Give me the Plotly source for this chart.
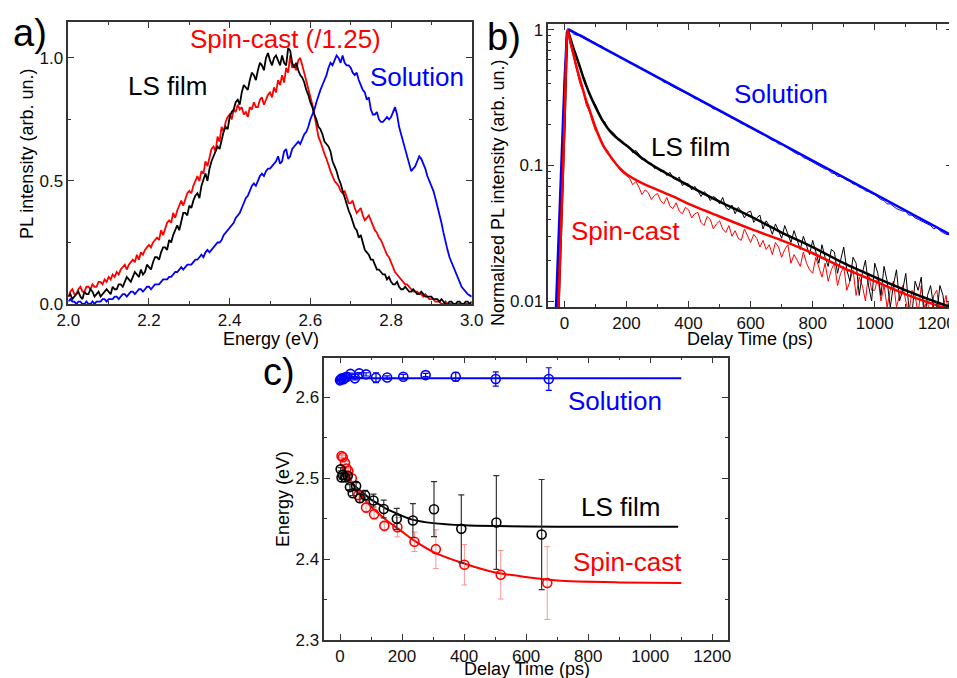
import plotly.graph_objects as go

# ---------------- Panel a: PL spectra (0.005 eV steps from 2.00 eV) ----------------
ls_film_pl = [
    0.03, 0.04, 0.02, 0.03, 0.04, 0.05, 0.03, 0.02, 0.05, 0.04, 0.04, 0.06, 0.05, 0.03, 0.04, 0.05, 0.03, 0.04, 0.05, 0.06,
    0.05, 0.04, 0.07, 0.06, 0.06, 0.08, 0.08, 0.07, 0.09, 0.11, 0.10, 0.09, 0.11, 0.13, 0.12, 0.11, 0.14, 0.12, 0.13, 0.16,
    0.15, 0.14, 0.17, 0.19, 0.19, 0.18, 0.21, 0.23, 0.23, 0.22, 0.26, 0.25, 0.28, 0.30, 0.32, 0.30, 0.34, 0.37, 0.37, 0.36,
    0.40, 0.39, 0.42, 0.44, 0.45, 0.43, 0.48, 0.51, 0.53, 0.50, 0.55, 0.58, 0.60, 0.62, 0.64, 0.63, 0.67, 0.70, 0.72, 0.71,
    0.76, 0.78, 0.79, 0.82, 0.83, 0.81, 0.86, 0.89, 0.88, 0.87, 0.91, 0.94, 0.93, 0.91, 0.95, 0.98, 0.97, 0.95, 1.00, 1.02,
    0.99, 0.97, 1.00, 1.01, 0.99, 0.97, 1.01, 0.98, 0.97, 1.04, 1.03, 0.98, 0.96, 0.98, 0.95, 0.93, 0.92, 0.90, 0.87, 0.85,
    0.82, 0.80, 0.77, 0.75, 0.72, 0.71, 0.69, 0.66, 0.65, 0.64, 0.62, 0.58, 0.56, 0.54, 0.51, 0.49, 0.46, 0.43, 0.40, 0.38,
    0.36, 0.33, 0.31, 0.30, 0.27, 0.28, 0.25, 0.22, 0.21, 0.20, 0.18, 0.18, 0.16, 0.14, 0.14, 0.13, 0.12, 0.12, 0.10, 0.11,
    0.09, 0.08, 0.08, 0.09, 0.07, 0.06, 0.06, 0.07, 0.06, 0.05, 0.05, 0.06, 0.05, 0.04, 0.04, 0.05, 0.04, 0.03, 0.03, 0.03,
    0.03, 0.02, 0.02, 0.02, 0.01, 0.02, 0.01, 0.00, 0.00, 0.01, 0.01, 0.00, 0.00, 0.01, 0.01, 0.00, 0.00, 0.01, 0.01, 0.00,
    0.01]
spin_cast_pl = [
    0.03, 0.05, 0.06, 0.04, 0.04, 0.06, 0.07, 0.05, 0.05, 0.07, 0.07, 0.06, 0.08, 0.07, 0.07, 0.09, 0.09, 0.08, 0.10, 0.09,
    0.11, 0.10, 0.12, 0.11, 0.13, 0.12, 0.14, 0.15, 0.16, 0.14, 0.16, 0.17, 0.18, 0.17, 0.20, 0.18, 0.21, 0.20, 0.22, 0.23,
    0.24, 0.23, 0.25, 0.26, 0.27, 0.26, 0.30, 0.28, 0.31, 0.33, 0.34, 0.33, 0.37, 0.35, 0.38, 0.40, 0.42, 0.40, 0.43, 0.45,
    0.46, 0.45, 0.48, 0.50, 0.52, 0.50, 0.54, 0.53, 0.58, 0.56, 0.60, 0.63, 0.64, 0.62, 0.68, 0.66, 0.72, 0.70, 0.74, 0.76,
    0.77, 0.75, 0.79, 0.78, 0.81, 0.79, 0.80, 0.77, 0.78, 0.76, 0.80, 0.79, 0.82, 0.80, 0.80, 0.83, 0.84, 0.81, 0.83, 0.85,
    0.86, 0.84, 0.88, 0.86, 0.91, 0.89, 0.93, 0.90, 0.96, 0.94, 1.01, 0.96, 0.97, 0.95, 0.99, 1.00, 0.97, 0.94, 0.90, 0.88,
    0.84, 0.81, 0.77, 0.73, 0.68, 0.66, 0.63, 0.61, 0.59, 0.56, 0.54, 0.52, 0.50, 0.49, 0.48, 0.46, 0.45, 0.46, 0.43, 0.41,
    0.41, 0.42, 0.39, 0.37, 0.38, 0.39, 0.36, 0.34, 0.35, 0.36, 0.34, 0.32, 0.30, 0.29, 0.27, 0.26, 0.24, 0.22, 0.20, 0.19,
    0.17, 0.15, 0.13, 0.12, 0.11, 0.10, 0.09, 0.08, 0.08, 0.07, 0.06, 0.05, 0.05, 0.05, 0.04, 0.04, 0.03, 0.04, 0.03, 0.02,
    0.02, 0.02, 0.01, 0.01, 0.01, 0.00, 0.00, 0.01, 0.00, 0.00, 0.00, 0.00, 0.00, 0.00, 0.00, 0.00, 0.00, 0.00, 0.00, 0.00,
    0.00]
solution_pl = [
    0.01, 0.02, 0.01, 0.01, 0.00, 0.01, 0.01, 0.00, 0.00, 0.01, 0.00, 0.00, 0.01, 0.00, 0.01, 0.01, 0.01, 0.02, 0.02, 0.01,
    0.02, 0.02, 0.02, 0.03, 0.03, 0.02, 0.03, 0.04, 0.04, 0.03, 0.04, 0.05, 0.05, 0.04, 0.05, 0.06, 0.06, 0.05, 0.06, 0.07,
    0.07, 0.06, 0.07, 0.08, 0.08, 0.08, 0.09, 0.10, 0.10, 0.10, 0.11, 0.11, 0.12, 0.13, 0.13, 0.14, 0.15, 0.14, 0.15, 0.16,
    0.16, 0.16, 0.17, 0.18, 0.18, 0.19, 0.20, 0.19, 0.21, 0.22, 0.21, 0.22, 0.23, 0.24, 0.25, 0.25, 0.26, 0.28, 0.29, 0.30,
    0.31, 0.32, 0.33, 0.35, 0.36, 0.37, 0.39, 0.41, 0.43, 0.44, 0.46, 0.48, 0.49, 0.48, 0.50, 0.52, 0.53, 0.52, 0.54, 0.55,
    0.55, 0.56, 0.57, 0.58, 0.60, 0.57, 0.58, 0.62, 0.63, 0.59, 0.60, 0.63, 0.64, 0.65, 0.66, 0.65, 0.67, 0.69, 0.70, 0.72,
    0.75, 0.77, 0.79, 0.82, 0.85, 0.87, 0.89, 0.91, 0.93, 0.96, 0.98, 0.97, 0.99, 1.01, 1.00, 0.98, 1.01, 0.98, 0.97, 0.97,
    0.96, 0.94, 0.93, 0.94, 0.91, 0.89, 0.87, 0.86, 0.83, 0.84, 0.79, 0.77, 0.77, 0.78, 0.75, 0.74, 0.74, 0.75, 0.76, 0.75,
    0.76, 0.78, 0.80, 0.77, 0.72, 0.69, 0.66, 0.63, 0.60, 0.57, 0.54, 0.55, 0.56, 0.58, 0.60, 0.59, 0.57, 0.55, 0.52, 0.50,
    0.48, 0.46, 0.43, 0.40, 0.36, 0.33, 0.29, 0.25, 0.22, 0.19, 0.17, 0.15, 0.13, 0.11, 0.09, 0.07, 0.06, 0.05, 0.04, 0.035,
    0.03]
energy_a = [round(2.0 + 0.005 * i, 3) for i in range(len(ls_film_pl))]

# ---------------- Panel b: PL decays (sampled every 10 ps from -30 ps) ----------------
solution_decay = [
    0.005, 0.02, 0.09,
    0.45, 0.97, 0.98, 0.93, 0.91, 0.92, 0.90, 0.87, 0.84, 0.82,
    0.80, 0.77, 0.76, 0.72, 0.71, 0.68, 0.67, 0.65, 0.62, 0.61,
    0.60, 0.57, 0.56, 0.55, 0.53, 0.51, 0.50, 0.48, 0.47, 0.455,
    0.44, 0.435, 0.41, 0.405, 0.39, 0.38, 0.37, 0.36, 0.35, 0.34,
    0.335, 0.325, 0.31, 0.31, 0.295, 0.29, 0.28, 0.275, 0.26, 0.262,
    0.25, 0.245, 0.236, 0.232, 0.222, 0.22, 0.212, 0.203, 0.202, 0.193,
    0.19, 0.186, 0.178, 0.174, 0.168, 0.165, 0.158, 0.153, 0.151, 0.144,
    0.143, 0.138, 0.133, 0.13, 0.125, 0.121, 0.12, 0.114, 0.112, 0.109,
    0.106, 0.103, 0.1, 0.097, 0.094, 0.093, 0.088, 0.087, 0.083, 0.083,
    0.08, 0.078, 0.076, 0.073, 0.072, 0.069, 0.068, 0.065, 0.064, 0.062,
    0.061, 0.058, 0.056, 0.055, 0.052, 0.052, 0.05, 0.048, 0.047, 0.046,
    0.046, 0.043, 0.043, 0.041, 0.04, 0.039, 0.038, 0.037, 0.036, 0.034,
    0.035, 0.033, 0.032, 0.031, 0.031, 0.026]
ls_film_decay = [
    0.004, 0.01, 0.05,
    0.25, 0.95, 0.86, 0.73, 0.62, 0.52, 0.46, 0.38, 0.35, 0.30,
    0.28, 0.25, 0.22, 0.21, 0.185, 0.18, 0.172, 0.158, 0.155, 0.143,
    0.142, 0.136, 0.124, 0.129, 0.121, 0.11, 0.112, 0.103, 0.104, 0.095,
    0.097, 0.09, 0.092, 0.084, 0.089, 0.081, 0.078, 0.082, 0.071, 0.074,
    0.073, 0.066, 0.07, 0.065, 0.059, 0.064, 0.061, 0.055, 0.059, 0.057,
    0.052, 0.058, 0.049, 0.047, 0.051, 0.044, 0.049, 0.046, 0.041, 0.045,
    0.046, 0.038, 0.041, 0.043, 0.034, 0.039, 0.036, 0.031, 0.037, 0.033,
    0.029, 0.036, 0.031, 0.027, 0.033, 0.028, 0.024, 0.03, 0.026, 0.022,
    0.028, 0.023, 0.019, 0.026, 0.021, 0.018, 0.024, 0.023, 0.016, 0.02,
    0.025, 0.017, 0.014, 0.021, 0.019, 0.011, 0.016, 0.02, 0.013, 0.01,
    0.019, 0.016, 0.011, 0.018, 0.014, 0.009, 0.013, 0.017, 0.01, 0.012,
    0.016, 0.009, 0.008, 0.014, 0.012, 0.015, 0.007, 0.011, 0.013, 0.009,
    0.008, 0.013, 0.011, 0.007, 0.01, 0.009]
spin_cast_decay = [
    0.003, 0.008, 0.04,
    0.22, 0.97, 0.76, 0.60, 0.50, 0.40, 0.35, 0.28, 0.25, 0.21,
    0.18, 0.17, 0.15, 0.135, 0.128, 0.112, 0.105, 0.10, 0.092, 0.088,
    0.083, 0.08, 0.072, 0.076, 0.069, 0.061, 0.066, 0.063, 0.056, 0.06,
    0.062, 0.055, 0.052, 0.058, 0.05, 0.048, 0.053, 0.046, 0.044, 0.049,
    0.047, 0.041, 0.044, 0.045, 0.038, 0.036, 0.042, 0.04, 0.034, 0.037,
    0.039, 0.034, 0.032, 0.036, 0.03, 0.033, 0.029, 0.028, 0.034, 0.03,
    0.027, 0.031, 0.029, 0.025, 0.028, 0.024, 0.026, 0.022, 0.027, 0.025,
    0.021, 0.024, 0.026, 0.019, 0.022, 0.02, 0.018, 0.023, 0.019, 0.017,
    0.016, 0.021, 0.018, 0.015, 0.019, 0.014, 0.017, 0.019, 0.013, 0.016,
    0.018, 0.012, 0.014, 0.017, 0.011, 0.015, 0.013, 0.01, 0.016, 0.012,
    0.012, 0.015, 0.01, 0.013, 0.009, 0.012, 0.014, 0.009, 0.011, 0.013,
    0.01, 0.008, 0.012, 0.011, 0.008, 0.013, 0.009, 0.01, 0.007, 0.011,
    0.012, 0.008, 0.009, 0.011, 0.007, 0.01]
decay_time = [-30 + 10 * i for i in range(len(solution_decay))]

solution_fit_t = [-28, -20, -10, 0, 8, 15, 100, 200, 300, 400, 500, 600, 700, 800, 900, 1000, 1100, 1200, 1250]
solution_fit_I = [0.008, 0.025, 0.1, 0.4, 0.95, 1.0, 0.786, 0.592, 0.446, 0.336, 0.253, 0.191, 0.144, 0.108, 0.0816, 0.0615, 0.0463, 0.0349, 0.0303]
ls_film_fit_t = [-20, -10, 0, 5, 10, 20, 30, 40, 50, 60, 70, 80, 100, 125, 150, 175, 200, 250, 300, 350, 400, 500, 600, 700, 800, 900, 1000, 1100, 1200, 1250]
ls_film_fit_I = [0.008, 0.04, 0.2, 0.5, 1.0, 0.85, 0.72, 0.62, 0.53, 0.45, 0.39, 0.34, 0.27, 0.21, 0.175, 0.155, 0.14, 0.113, 0.095, 0.082, 0.071, 0.054, 0.042, 0.032, 0.025, 0.019, 0.015, 0.012, 0.0098, 0.0089]
spin_cast_fit_t = [-20, -10, 0, 5, 10, 20, 30, 40, 50, 60, 70, 80, 100, 125, 150, 175, 200, 250, 300, 350, 400, 500, 600, 700, 800, 900, 1000, 1100, 1200, 1250]
spin_cast_fit_I = [0.008, 0.04, 0.2, 0.55, 1.0, 0.8, 0.65, 0.52, 0.43, 0.36, 0.3, 0.26, 0.19, 0.14, 0.115, 0.097, 0.086, 0.074, 0.066, 0.059, 0.052, 0.042, 0.034, 0.028, 0.0225, 0.0175, 0.014, 0.0112, 0.0093, 0.0085]

# ---------------- Panel c: peak energy vs delay ----------------
sol_t = [0, 3, 6, 11, 16, 22, 34, 48, 62, 84, 116, 152, 204, 276, 373, 502, 673]
sol_E = [2.621, 2.622, 2.6235, 2.6225, 2.6245, 2.6255, 2.629, 2.6235, 2.6296, 2.6284, 2.6242, 2.6246, 2.6254, 2.6275, 2.6254, 2.6226, 2.6226]
sol_err = [0.001, 0.001, 0.001, 0.001, 0.001, 0.001, 0.001, 0.002, 0.001, 0.002, 0.006, 0.002, 0.003, 0.002, 0.0055, 0.0088, 0.014]
sol_fit_t = [0, 1100]
sol_fit_E = [2.6235, 2.6235]

ls_t = [2, 5, 9, 17, 25, 32, 41, 52, 64, 81, 108, 141, 183, 235, 303, 391, 504, 650]
ls_E = [2.511, 2.501, 2.504, 2.501, 2.503, 2.489, 2.4815, 2.4905, 2.4753, 2.479, 2.4724, 2.462, 2.4498, 2.4477, 2.4617, 2.4374, 2.4452, 2.4304]
ls_err = [0.002, 0.002, 0.002, 0.002, 0.002, 0.003, 0.003, 0.004, 0.005, 0.006, 0.008, 0.011, 0.013, 0.021, 0.034, 0.042, 0.058, 0.068]
ls_fit_t = [9, 20, 30, 40, 50, 75, 100, 129, 150, 200, 236, 300, 400, 500, 700, 900, 1090]
ls_fit_E = [2.512, 2.505, 2.4995, 2.494, 2.4895, 2.4815, 2.4735, 2.467, 2.462, 2.4535, 2.4485, 2.4445, 2.4418, 2.4408, 2.4401, 2.44, 2.44]

sc_t = [5, 9, 16, 21, 27, 38, 59, 84, 110, 143, 185, 240, 309, 401, 518, 668]
sc_E = [2.5275, 2.526, 2.519, 2.512, 2.509, 2.5, 2.479, 2.4637, 2.4556, 2.4411, 2.4395, 2.4214, 2.4123, 2.393, 2.3806, 2.3704]
sc_err = [0.002, 0.002, 0.002, 0.003, 0.003, 0.004, 0.005, 0.006, 0.006, 0.006, 0.012, 0.012, 0.024, 0.025, 0.030, 0.045]
sc_fit_t = [10, 20, 30, 40, 50, 75, 100, 129, 150, 200, 236, 300, 400, 500, 700, 900, 1100]
sc_fit_E = [2.515, 2.507, 2.5, 2.494, 2.488, 2.4753, 2.465, 2.4547, 2.448, 2.434, 2.4238, 2.409, 2.3945, 2.3835, 2.3735, 2.3712, 2.3705]

BLUE, RED, BLACK = "#0000ff", "#ff0000", "#000000"
OFF = 8                      # page body margin in the browser
W, H = 957 - OFF, 678 - OFF  # figure size so that the screenshot area is covered
FONT = "Arial, 'Liberation Sans', sans-serif"

def px(x, y):
    """screen pixel -> paper coordinate"""
    return (x - OFF) / W, 1 - (y - OFF) / H

fig = go.Figure()

# panel a
fig.add_trace(go.Scatter(x=energy_a, y=solution_pl, mode="lines", line=dict(color=BLUE, width=1.8), xaxis="x", yaxis="y"))
fig.add_trace(go.Scatter(x=energy_a, y=spin_cast_pl, mode="lines", line=dict(color=RED, width=1.8), xaxis="x", yaxis="y"))
fig.add_trace(go.Scatter(x=energy_a, y=ls_film_pl, mode="lines", line=dict(color=BLACK, width=1.8), xaxis="x", yaxis="y"))

# panel b
for data, col in [(solution_decay, BLUE), (spin_cast_decay, RED), (ls_film_decay, BLACK)]:
    fig.add_trace(go.Scatter(x=decay_time, y=data, mode="lines", line=dict(color=col, width=1),
                             xaxis="x2", yaxis="y2"))
fig.add_trace(go.Scatter(x=solution_fit_t, y=solution_fit_I, mode="lines", line=dict(color=BLUE, width=2.5), xaxis="x2", yaxis="y2"))
fig.add_trace(go.Scatter(x=ls_film_fit_t, y=ls_film_fit_I, mode="lines", line=dict(color=BLACK, width=2.5, shape="spline", smoothing=0.6), xaxis="x2", yaxis="y2"))
fig.add_trace(go.Scatter(x=spin_cast_fit_t, y=spin_cast_fit_I, mode="lines", line=dict(color=RED, width=2.5, shape="spline", smoothing=0.6), xaxis="x2", yaxis="y2"))

# panel c
fig.add_trace(go.Scatter(x=sol_fit_t, y=sol_fit_E, mode="lines", line=dict(color=BLUE, width=2), xaxis="x3", yaxis="y3"))
fig.add_trace(go.Scatter(x=ls_fit_t, y=ls_fit_E, mode="lines", line=dict(color=BLACK, width=2, shape="spline", smoothing=0.6), xaxis="x3", yaxis="y3"))
fig.add_trace(go.Scatter(x=sc_fit_t, y=sc_fit_E, mode="lines", line=dict(color=RED, width=2, shape="spline", smoothing=0.6), xaxis="x3", yaxis="y3"))
fig.add_trace(go.Scatter(x=sc_t, y=sc_E, mode="markers",
                         marker=dict(symbol="circle-open", size=9, color=RED, line=dict(width=1.6)),
                         error_y=dict(type="data", array=sc_err, color="rgba(255,80,80,0.6)", thickness=1, width=3),
                         xaxis="x3", yaxis="y3"))
fig.add_trace(go.Scatter(x=ls_t, y=ls_E, mode="markers",
                         marker=dict(symbol="circle-open", size=9, color=BLACK, line=dict(width=1.6)),
                         error_y=dict(type="data", array=ls_err, color="#333333", thickness=1.2, width=3),
                         xaxis="x3", yaxis="y3"))
fig.add_trace(go.Scatter(x=sol_t, y=sol_E, mode="markers",
                         marker=dict(symbol="circle-open", size=9, color=BLUE, line=dict(width=1.6)),
                         error_y=dict(type="data", array=sol_err, color=BLUE, thickness=1.2, width=3),
                         xaxis="x3", yaxis="y3"))

axis_common = dict(showgrid=False, zeroline=False, showline=True, linecolor="#333333", linewidth=1.5,
                   mirror="allticks", ticks="inside", ticklen=6, tickwidth=1.2, tickcolor="#333333",
                   automargin=False, ticklabeloverflow="allow",
                   tickfont=dict(family=FONT, size=17, color="#111111"))
minor_common = dict(ticks="inside", ticklen=3, tickwidth=1, tickcolor="#333333")

xa = px(68.3, 0)[0], px(471.7, 0)[0]
ya = px(0, 304)[1], px(0, 22)[1]
xb = px(548.3, 0)[0], px(952, 0)[0]
yb = px(0, 307)[1], px(0, 24.3)[1]
xc = px(324.3, 0)[0], px(727.7, 0)[0]
yc = px(0, 640)[1], px(0, 357.7)[1]

fig.update_layout(
    width=W, height=H, margin=dict(l=0, r=0, t=0, b=0, pad=0, autoexpand=False),
    paper_bgcolor="white", plot_bgcolor="white", showlegend=False,
    xaxis=dict(domain=list(xa), anchor="y", range=[2.0, 3.0], dtick=0.2, tick0=2.0, tickformat=".1f",
               minor=dict(dtick=0.1, **minor_common), **axis_common),
    yaxis=dict(domain=list(ya), anchor="x", range=[0, 1.146], tickvals=[0, 0.5, 1.0], ticktext=["0.0", "0.5", "1.0"],
               minor=dict(dtick=0.25, **minor_common), **axis_common),
    xaxis2=dict(domain=list(xb), anchor="y2", range=[-52, 1249], dtick=200, tick0=0,
                minor=dict(dtick=100, **minor_common), **axis_common),
    yaxis2=dict(domain=list(yb), anchor="x2", type="log", range=[-2.044, 0.04],
                tickvals=[0.01, 0.1, 1], ticktext=["0.01", "0.1", "1"],
                minor=dict(tickvals=[0.02, 0.03, 0.04, 0.05, 0.06, 0.07, 0.08, 0.09,
                                     0.2, 0.3, 0.4, 0.5, 0.6, 0.7, 0.8, 0.9], **minor_common),
                **axis_common),
    xaxis3=dict(domain=list(xc), anchor="y3", range=[-50.6, 1249.7], dtick=200, tick0=0,
                minor=dict(dtick=100, **minor_common), **axis_common),
    yaxis3=dict(domain=list(yc), anchor="x3", range=[2.3, 2.649], dtick=0.1, tick0=2.3, tickformat=".1f",
                minor=dict(dtick=0.05, **minor_common), **axis_common),
)

ann = []
def text(x, y, s, size, color="#000000", angle=0):
    xp, yp = px(x, y)
    ann.append(dict(x=xp, y=yp, xref="paper", yref="paper", text=s, showarrow=False,
                    xanchor="center", yanchor="middle", textangle=angle,
                    font=dict(family=FONT, size=size, color=color)))

# panel labels
text(30, 33, "a)", 38)
text(504, 37, "b)", 38)
text(279, 372, "c)", 38)
# axis titles
text(27, 154, "PL intensity (arb. un.)", 18, angle=-90)
text(271, 339, "Energy (eV)", 18)
text(498, 193, "Normalized PL intensity (arb. un.)", 18, angle=-90)
text(750, 339, "Delay Time (ps)", 18)
text(283, 499, "Energy (eV)", 18, angle=-90)
text(527, 669, "Delay Time (ps)", 18)
# series labels
text(285, 39, "Spin-cast (/1.25)", 26, RED)
text(167, 86, "LS film", 26, BLACK)
text(417, 77, "Solution", 26, BLUE)
text(781, 94, "Solution", 26, BLUE)
text(690, 147, "LS film", 26, BLACK)
text(625, 231, "Spin-cast", 26, RED)
text(615, 401, "Solution", 26, BLUE)
text(620, 507, "LS film", 26, BLACK)
text(627, 562, "Spin-cast", 26, RED)
fig.update_layout(annotations=ann)

fig.write_html("out.html")
